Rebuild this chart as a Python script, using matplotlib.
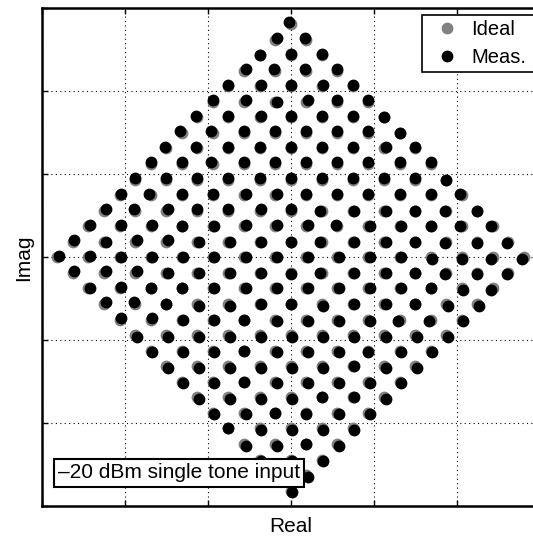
import matplotlib
matplotlib.use("Agg")
import matplotlib.pyplot as plt
import numpy as np

plt.rcParams['font.family'] = ['Liberation Sans', 'DejaVu Sans']

# ---- data -------------------------------------------------------------
# Rotated 256-point square constellation: rows of the lattice, top to bottom.
row_levels = list(range(15, -16, -1))          # imaginary lattice index of each row
# Measured-point displacement read from the picture, one keypad code per point
# (7 8 9 / 4 5 6 / 1 2 3 ; 5 = on the ideal point), row by row, left to right.
meas_codes = [
    "7",
    "97",
    "588",
    "9778",
    "89898",
    "896988",
    "7898885",
    "77888885",
    "778888898",
    "8878888888",
    "88888888885",
    "978899888887",
    "9798898466545",
    "99956999766544",
    "969966654665121",
    "9966666666663211",
    "999666624665121",
    "69556666666531",
    "9753365366533",
    "996653333113",
    "33333333333",
    "3335333233",
    "333333633",
    "33533333",
    "3333563",
    "335233",
    "53333",
    "3353",
    "333",
    "33",
    "3",
]
lattice_step = 0.1874      # lattice spacing in axis units
shift_step = 0.10          # measured displacement per code step, in lattice units

grid_ticks = [-3, -2, -1, 0, 1, 2, 3]
x_label = "Real"
y_label = "Imag"
legend_labels = ["Ideal", "Meas."]
annotation = "\u201320 dBm single tone input"

code_dir = {'7': (-1, 1), '8': (0, 1), '9': (1, 1),
            '4': (-1, 0), '5': (0, 0), '6': (1, 0),
            '1': (-1, -1), '2': (0, -1), '3': (1, -1)}

ideal_x, ideal_y, meas_x, meas_y = [], [], [], []
for j, codes in zip(row_levels, meas_codes):
    n = 15 - abs(j)
    cols = list(range(-n, n + 1, 2))
    assert len(cols) == len(codes)
    for i, c in zip(cols, codes):
        dx, dy = code_dir[c]
        ideal_x.append(i * lattice_step)
        ideal_y.append(j * lattice_step)
        meas_x.append((i + dx * shift_step) * lattice_step)
        meas_y.append((j + dy * shift_step) * lattice_step)

# ---- figure -----------------------------------------------------------
W, H = 533, 538
fig = plt.figure(figsize=(W / 100, H / 100), dpi=100)
ax_left, ax_top, ax_size = 41.7, 8.3, 498.0
ax = fig.add_axes([ax_left / W, (H - ax_top - ax_size) / H, ax_size / W, ax_size / H])

ax.plot(ideal_x, ideal_y, linestyle='none', marker='o', markersize=8.5,
        color='0.5', markeredgewidth=0, label=legend_labels[0], zorder=3)
ax.plot(meas_x, meas_y, linestyle='none', marker='o', markersize=8.5,
        color='black', markeredgewidth=0, label=legend_labels[1], zorder=4)

ax.set_xlim(-3, 3)
ax.set_ylim(-3, 3)
ax.set_xticks(grid_ticks)
ax.set_yticks(grid_ticks)
ax.tick_params(direction='in', length=4, width=1, top=True, right=True,
               labelbottom=False, labelleft=False)
ax.grid(True, color='black', linestyle=(0, (1, 3)), linewidth=0.8)
ax.set_axisbelow(True)
for sp in ax.spines.values():
    sp.set_linewidth(1.8)

ax.set_xlabel(x_label, fontsize=15, labelpad=8)
ax.set_ylabel(y_label, fontsize=15, labelpad=6)

x0 = (422 - ax_left) / ax_size
y1 = 1 - (15 - ax_top) / ax_size
y0 = 1 - (70 - ax_top) / ax_size
leg = ax.legend(loc='upper left', bbox_to_anchor=(x0, y0, 1.0 - x0, y1 - y0), mode='expand',
                borderaxespad=0, fontsize=14.5, frameon=True, fancybox=False,
                framealpha=1, edgecolor='black', borderpad=0.26, handlelength=2.0,
                handletextpad=0.2, labelspacing=0.42, numpoints=1)
leg.get_frame().set_linewidth(1.2)
leg.set_zorder(10)

ax.text((179 - ax_left) / ax_size, (ax_top + ax_size - 473) / ax_size, annotation,
        transform=ax.transAxes, fontsize=15, ha='center', va='center', zorder=11,
        bbox=dict(boxstyle='square,pad=0.2', facecolor='white', edgecolor='black', linewidth=1.5))

fig.savefig("out.png", dpi=100)
